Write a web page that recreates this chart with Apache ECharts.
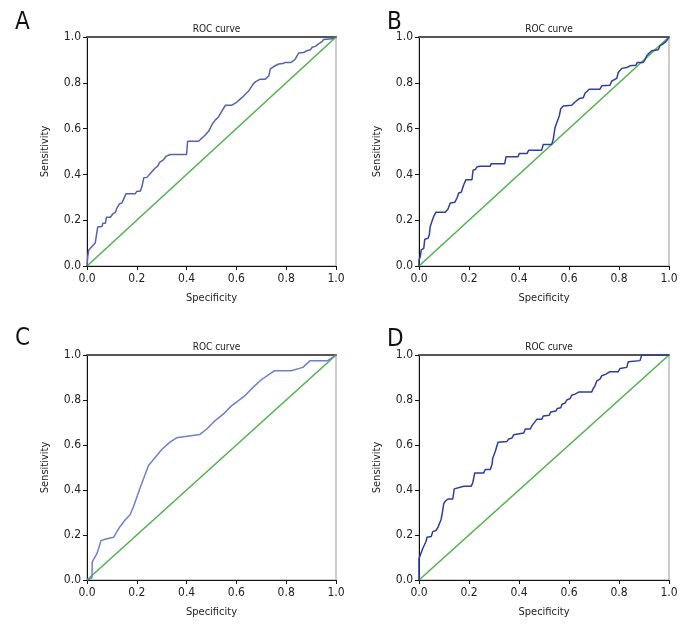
<!DOCTYPE html>
<html><head><meta charset="utf-8">
<script src="https://cdn.jsdelivr.net/npm/echarts@6/dist/echarts.min.js"></script>
<style>html,body{margin:0;padding:0;background:#fff}#c{width:696px;height:636px}</style>
</head><body><div id="c"></div>
<script>
const panelLetters = ['A','B','C','D'];
const titleText = 'ROC curve';
const xName = 'Specificity';
const yName = 'Sensitivity';
const diagX = [0, 1];
const diagY = [0, 1];

const aX = [0,0.003,0.007,0.02,0.033,0.04,0.043,0.06,0.064,0.074,0.078,0.094,0.104,0.114,0.12,0.131,0.14,0.147,0.157,0.194,0.2,0.214,0.221,0.228,0.241,0.254,0.261,0.274,0.284,0.292,0.308,0.319,0.335,0.35,0.40,0.404,0.448,0.455,0.475,0.489,0.502,0.515,0.529,0.535,0.542,0.556,0.582,0.602,0.622,0.636,0.65,0.667,0.676,0.696,0.716,0.73,0.736,0.75,0.77,0.787,0.796,0.82,0.836,0.85,0.87,0.883,0.897,0.904,0.917,0.93,0.944,0.95,0.984,0.997,1];
const aY = [0,0.041,0.07,0.085,0.1,0.107,0.17,0.172,0.187,0.187,0.213,0.213,0.228,0.234,0.253,0.272,0.275,0.292,0.316,0.316,0.326,0.326,0.348,0.385,0.387,0.404,0.406,0.428,0.436,0.453,0.465,0.48,0.487,0.487,0.487,0.545,0.545,0.553,0.572,0.589,0.618,0.637,0.652,0.658,0.677,0.702,0.702,0.716,0.735,0.75,0.765,0.794,0.804,0.816,0.816,0.83,0.86,0.871,0.882,0.884,0.889,0.889,0.903,0.93,0.932,0.94,0.944,0.955,0.959,0.97,0.98,0.989,0.992,1,1];

const bX = [0,0,0.005,0.009,0.019,0.023,0.036,0.041,0.045,0.052,0.059,0.068,0.105,0.116,0.125,0.143,0.152,0.159,0.169,0.179,0.188,0.212,0.216,0.225,0.232,0.245,0.285,0.289,0.343,0.348,0.396,0.401,0.432,0.439,0.491,0.497,0.531,0.537,0.544,0.551,0.561,0.567,0.577,0.611,0.624,0.641,0.657,0.664,0.681,0.724,0.731,0.764,0.771,0.791,0.797,0.811,0.831,0.844,0.868,0.873,0.897,0.904,0.911,0.921,0.931,0.957,0.964,0.975,0.988,0.997,1];
const bY = [0,0.026,0.04,0.07,0.077,0.117,0.121,0.135,0.173,0.195,0.217,0.235,0.235,0.249,0.275,0.278,0.297,0.319,0.322,0.355,0.377,0.377,0.418,0.421,0.433,0.436,0.436,0.447,0.447,0.477,0.477,0.491,0.491,0.506,0.506,0.531,0.531,0.553,0.604,0.626,0.655,0.687,0.699,0.702,0.716,0.731,0.735,0.754,0.772,0.772,0.787,0.789,0.808,0.819,0.845,0.863,0.867,0.874,0.877,0.889,0.889,0.901,0.918,0.93,0.94,0.944,0.962,0.969,0.98,0.994,1];

const cX = [0,0.02,0.021,0.029,0.04,0.047,0.056,0.073,0.107,0.12,0.133,0.153,0.173,0.187,0.213,0.247,0.273,0.3,0.333,0.36,0.453,0.48,0.513,0.547,0.58,0.607,0.633,0.667,0.7,0.727,0.753,0.82,0.867,0.896,0.967,0.98,1];
const cY = [0,0.01,0.081,0.096,0.118,0.141,0.175,0.181,0.19,0.215,0.238,0.267,0.29,0.327,0.409,0.509,0.543,0.58,0.613,0.632,0.647,0.67,0.707,0.737,0.774,0.796,0.818,0.856,0.89,0.911,0.93,0.93,0.945,0.975,0.975,0.985,1];

const dX = [0,0,0.005,0.015,0.023,0.028,0.032,0.049,0.055,0.068,0.076,0.081,0.088,0.092,0.099,0.105,0.116,0.135,0.141,0.179,0.209,0.215,0.223,0.259,0.265,0.285,0.292,0.295,0.305,0.316,0.352,0.359,0.372,0.379,0.385,0.419,0.425,0.445,0.452,0.471,0.491,0.497,0.521,0.527,0.548,0.553,0.567,0.572,0.584,0.591,0.604,0.611,0.624,0.641,0.691,0.697,0.704,0.711,0.724,0.731,0.748,0.764,0.797,0.804,0.831,0.837,0.884,0.891,1];
const dY = [0,0.095,0.11,0.14,0.148,0.171,0.19,0.193,0.215,0.22,0.235,0.241,0.268,0.29,0.339,0.35,0.36,0.36,0.405,0.417,0.417,0.432,0.476,0.476,0.491,0.491,0.513,0.542,0.571,0.612,0.616,0.627,0.631,0.646,0.653,0.653,0.671,0.671,0.686,0.714,0.714,0.729,0.732,0.747,0.751,0.762,0.766,0.781,0.786,0.8,0.806,0.821,0.826,0.836,0.836,0.851,0.863,0.885,0.893,0.908,0.915,0.926,0.926,0.94,0.945,0.97,0.975,1,1];

const curves = [[aX,aY],[bX,bY],[cX,cY],[dX,dY]];
const curveColors = ['#5463ad','#2e3f9c','#6f80cc','#2e3d9c'];
const diagColor = '#52b352';

const grids = [
  {left:87, top:37, width:249, height:229},
  {left:419, top:37, width:250, height:229},
  {left:87, top:355, width:249, height:225},
  {left:419, top:355, width:250, height:225}
];
const letterPos = [[22,24],[394,24],[22,340],[394,341]];
const FONT = '"DejaVu Sans Condensed","Liberation Sans Narrow",sans-serif';

const zip = (xs, ys) => xs.map((x,i)=>[x, ys[i]]);
const fmt = v => v.toFixed(1);

const option = {
  animation:false,
  backgroundColor:'#fff',
  textStyle:{fontFamily:FONT},
  title:[], grid:[], xAxis:[], yAxis:[], series:[], graphic:[]
};

grids.forEach((g,i)=>{
  option.grid.push({left:g.left, top:g.top, width:g.width, height:g.height, show:true, borderColor:'#9a9a9a', borderWidth:1, backgroundColor:'#fff'});
  option.title.push({text:titleText, left:g.left + g.width/2, top:g.top - 18, textAlign:'center',
    textStyle:{fontFamily:FONT, fontSize:10, fontWeight:'normal', color:'#222'}});
  option.xAxis.push({type:'value', gridIndex:i, min:0, max:1, interval:0.2, position:'bottom',
    name:xName, nameLocation:'middle', nameGap:27, nameTextStyle:{fontFamily:FONT, fontSize:11, color:'#222'},
    axisLine:{show:true, onZero:false, lineStyle:{color:'#111', width:1}},
    axisTick:{show:true, length:4, lineStyle:{color:'#111'}},
    axisLabel:{formatter:fmt, fontFamily:FONT, fontSize:12, color:'#222', margin:7},
    splitLine:{show:false}});
  option.xAxis.push({type:'value', gridIndex:i, min:0, max:1, position:'top',
    axisLine:{show:true, onZero:false, lineStyle:{color:'#555', width:2}},
    axisTick:{show:false}, axisLabel:{show:false}, splitLine:{show:false}});
  option.yAxis.push({type:'value', gridIndex:i, min:0, max:1, interval:0.2, position:'left',
    name:yName, nameLocation:'middle', nameGap:36, nameRotate:90, nameTextStyle:{fontFamily:FONT, fontSize:11, color:'#222'},
    axisLine:{show:true, onZero:false, lineStyle:{color:'#111', width:1}},
    axisTick:{show:true, length:4, lineStyle:{color:'#111'}},
    axisLabel:{formatter:fmt, fontFamily:FONT, fontSize:12, color:'#222', margin:6},
    splitLine:{show:false}});
  option.series.push({type:'line', xAxisIndex:2*i, yAxisIndex:i, data:zip(diagX, diagY), showSymbol:false,
    lineStyle:{color:diagColor, width:1.6}, silent:true, z:2});
  option.series.push({type:'line', xAxisIndex:2*i, yAxisIndex:i, data:zip(curves[i][0], curves[i][1]), showSymbol:false,
    lineStyle:{color:curveColors[i], width:1.5}, silent:true, z:3});
  option.graphic.push({type:'text', left:letterPos[i][0]-7, top:letterPos[i][1]-13,
    style:{text:panelLetters[i], font:'24px '+FONT, fill:'#111'}});
});

const chart = echarts.init(document.getElementById('c'), null, {renderer:'canvas'});
chart.setOption(option);
</script></body></html>
